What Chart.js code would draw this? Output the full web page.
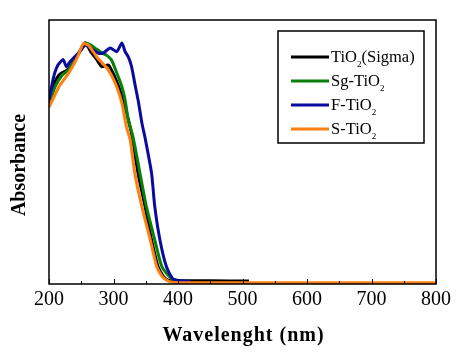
<!DOCTYPE html>
<html>
<head>
<meta charset="utf-8">
<script src="https://cdn.jsdelivr.net/npm/chart.js@4"></script>
<style>
  body { margin: 0; background: #fff; }
  #chart { display: block; }
</style>
</head>
<body>
<canvas id="chart" width="463" height="355"></canvas>
<script>
// wavelength (nm) and absorbance (normalised 0..1)
const sigmaNm = [200, 205, 210, 215, 220, 228, 235, 242, 250, 256, 266, 274, 282, 292, 302, 310, 318, 328, 338, 349, 359, 369, 377, 384, 392, 400, 450, 510];
const sigmaAbs = [0.68, 0.73, 0.77, 0.79, 0.80, 0.81, 0.83, 0.86, 0.89, 0.914, 0.875, 0.85, 0.823, 0.83, 0.785, 0.735, 0.67, 0.57, 0.42, 0.293, 0.167, 0.066, 0.03, 0.015, 0.012, 0.012, 0.012, 0.011];

const sgNm = [200, 210, 220, 230, 240, 250, 258, 268, 282, 289, 297, 305, 313, 318, 323, 330, 341, 351, 364, 375, 390, 400, 420];
const sgAbs = [0.68, 0.75, 0.79, 0.81, 0.85, 0.89, 0.912, 0.9, 0.875, 0.867, 0.848, 0.8, 0.747, 0.697, 0.62, 0.56, 0.42, 0.293, 0.167, 0.066, 0.02, 0.012, 0.01];

const fNm = [200, 205, 209, 214, 222, 227, 232, 238, 248, 256, 264, 276, 284, 295, 305, 313, 318, 323, 328, 333, 339, 344, 349, 359, 364, 372, 382, 392, 405, 420];
const fAbs = [0.697, 0.76, 0.8, 0.83, 0.85, 0.823, 0.84, 0.856, 0.88, 0.905, 0.894, 0.875, 0.875, 0.894, 0.88, 0.913, 0.88, 0.86, 0.823, 0.76, 0.685, 0.61, 0.553, 0.42, 0.293, 0.167, 0.066, 0.02, 0.012, 0.01];

const sNm = [200, 210, 217, 228, 238, 246, 253, 261, 274, 289, 297, 305, 313, 320, 326, 333, 344, 357, 367, 375, 382, 390, 400, 500, 600, 700, 800];
const sAbs = [0.67, 0.72, 0.754, 0.79, 0.83, 0.87, 0.91, 0.905, 0.86, 0.82, 0.79, 0.747, 0.686, 0.596, 0.545, 0.42, 0.293, 0.167, 0.066, 0.03, 0.015, 0.007, 0.005, 0.005, 0.005, 0.005, 0.005];

const xTicks = [200, 300, 400, 500, 600, 700, 800];
const xMinorTicks = [250, 350, 450, 550, 650, 750];

// legend label: main text, subscript, trailing text
const legendLabels = [
    ['TiO', '2', '(Sigma)'],
    ['Sg-TiO', '2', ''],
    ['F-TiO', '2', ''],
    ['S-TiO', '2', '']
];
const seriesColors = ['#000000', '#0b7f0b', '#0a0a9e', '#ff7f10'];

function pts(xs, ys) {
    return xs.map((x, i) => ({ x: x, y: ys[i] }));
}

const serif = '"Liberation Serif", "Times New Roman", serif';

// frame, ticks, labels, titles and legend
const decorPlugin = {
    id: 'decor',
    afterDraw(chart) {
        const ctx = chart.ctx;
        const a = chart.chartArea;
        const xs = chart.scales.x;
        ctx.save();

        // frame
        ctx.strokeStyle = '#000';
        ctx.lineWidth = 1.5;
        ctx.strokeRect(a.left, a.top, a.right - a.left, a.bottom - a.top);

        // inward ticks on bottom axis
        ctx.lineWidth = 1;
        ctx.beginPath();
        xTicks.forEach(v => {
            const px = Math.round(xs.getPixelForValue(v)) + 0.5;
            ctx.moveTo(px, a.bottom);
            ctx.lineTo(px, a.bottom - 5);
        });
        xMinorTicks.forEach(v => {
            const px = Math.round(xs.getPixelForValue(v)) + 0.5;
            ctx.moveTo(px, a.bottom);
            ctx.lineTo(px, a.bottom - 3);
        });
        ctx.stroke();

        // tick labels
        ctx.fillStyle = '#000';
        ctx.font = '20px ' + serif;
        ctx.textAlign = 'center';
        ctx.textBaseline = 'middle';
        xTicks.forEach(v => {
            ctx.fillText(String(v), xs.getPixelForValue(v), 300);
        });

        // axis titles
        ctx.font = 'bold 20px ' + serif;
        ctx.textBaseline = 'alphabetic';
        ctx.letterSpacing = '1px';
        ctx.fillText('Wavelenght (nm)', (a.left + a.right) / 2 + 1, 341);
        ctx.letterSpacing = '0px';
        ctx.textBaseline = 'middle';
        ctx.save();
        ctx.translate(20, 165);
        ctx.rotate(-Math.PI / 2);
        ctx.fillText('Absorbance', 0, 0);
        ctx.restore();

        // legend box
        ctx.lineWidth = 1.5;
        ctx.strokeRect(278, 31, 146, 112);
        ctx.textAlign = 'left';
        ctx.textBaseline = 'alphabetic';
        legendLabels.forEach((lab, i) => {
            const y = 57 + i * 24;
            ctx.strokeStyle = seriesColors[i];
            ctx.lineWidth = 3;
            ctx.beginPath();
            ctx.moveTo(291, y);
            ctx.lineTo(329, y);
            ctx.stroke();
            let x = 331;
            ctx.fillStyle = '#000';
            ctx.font = '16.5px ' + serif;
            ctx.fillText(lab[0], x, y + 5);
            x += ctx.measureText(lab[0]).width;
            ctx.font = '9px ' + serif;
            ctx.fillText(lab[1], x, y + 10);
            x += ctx.measureText(lab[1]).width;
            ctx.font = '16.5px ' + serif;
            ctx.fillText(lab[2], x, y + 5);
        });

        ctx.restore();
    }
};

const mkSet = (xs, ys, i, order) => ({
    data: pts(xs, ys),
    borderColor: seriesColors[i],
    backgroundColor: seriesColors[i],
    borderWidth: 3,
    pointRadius: 0,
    tension: 0.2,
    fill: false,
    order: order
});

new Chart(document.getElementById('chart').getContext('2d'), {
    type: 'line',
    data: {
        datasets: [
            mkSet(sigmaNm, sigmaAbs, 0, 3),
            mkSet(sgNm, sgAbs, 1, 2),
            mkSet(fNm, fAbs, 2, 1),
            mkSet(sNm, sAbs, 3, 0)
        ]
    },
    options: {
        responsive: false,
        animation: false,
        layout: { padding: { left: 49, right: 27, top: 20, bottom: 71 } },
        plugins: {
            legend: { display: false },
            tooltip: { enabled: false }
        },
        scales: {
            x: { type: 'linear', min: 200, max: 800, display: false },
            y: { min: 0, max: 1, display: false }
        }
    },
    plugins: [decorPlugin]
});
</script>
</body>
</html>
